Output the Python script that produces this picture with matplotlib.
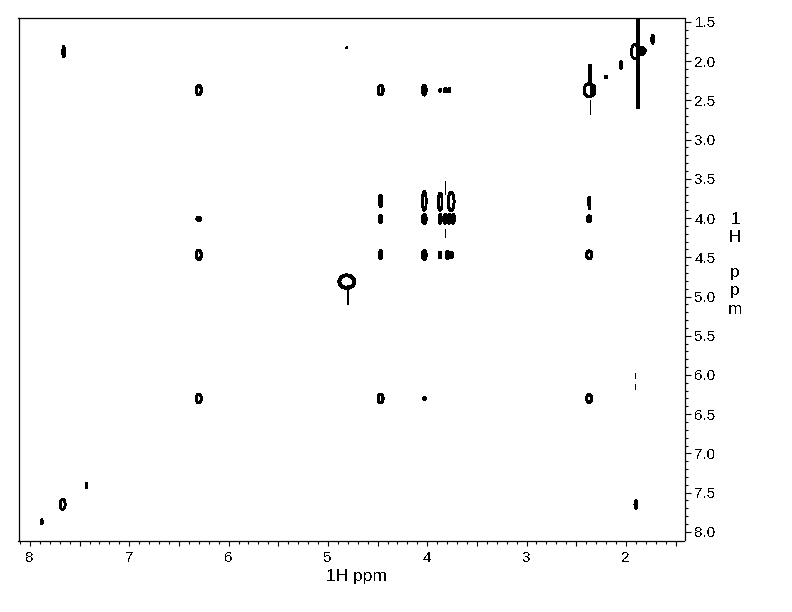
import matplotlib
matplotlib.use("Agg")
import numpy as np
import matplotlib.pyplot as plt
from matplotlib.patches import Ellipse

plt.rcParams['font.family'] = ['Liberation Sans', 'DejaVu Sans']
plt.rcParams['text.antialiased'] = False

# filled cross peaks: F2 ppm, F1 ppm, width, height (ppm)
solid_x = [7.66, 7.88, 7.43, 1.90, 2.05, 2.20, 1.73, 4.81,
           4.47, 4.03, 6.30, 4.47, 4.03, 3.87, 3.82, 3.78, 3.74, 2.37, 2.37,
           4.47, 4.03, 3.87, 3.80, 3.76, 4.03, 3.87, 3.82, 3.78,
           2.33, 1.84]
solid_y = [1.88, 7.87, 7.41, 7.65, 2.05, 2.20, 1.72, 1.83,
           3.78, 2.37, 4.01, 4.01, 4.01, 4.01, 4.01, 4.01, 4.01, 3.79, 4.01,
           4.47, 4.47, 4.47, 4.47, 4.47, 6.30, 2.37, 2.37, 2.37,
           2.37, 1.87]
solid_w = [0.03, 0.02, 0.015, 0.03, 0.03, 0.03, 0.03, 0.01,
           0.04, 0.05, 0.05, 0.04, 0.05, 0.03, 0.04, 0.04, 0.04, 0.03, 0.05,
           0.04, 0.05, 0.03, 0.03, 0.05, 0.03, 0.02, 0.03, 0.03,
           0.05, 0.08]
solid_h = [0.15, 0.07, 0.07, 0.11, 0.10, 0.03, 0.12, 0.02,
           0.16, 0.14, 0.06, 0.11, 0.13, 0.13, 0.13, 0.13, 0.13, 0.13, 0.09,
           0.12, 0.13, 0.09, 0.11, 0.09, 0.04, 0.04, 0.06, 0.06,
           0.14, 0.10]

# peaks drawn as open contours
ring_x = [7.67, 6.30, 6.30, 6.30, 4.47, 4.47, 2.37, 4.03, 3.87, 3.76, 2.37, 2.37, 1.91, 4.81]
ring_y = [7.65, 2.37, 4.47, 6.30, 2.37, 6.30, 6.30, 3.78, 3.79, 3.79, 4.47, 2.37, 1.88, 4.81]
ring_w = [0.05, 0.05, 0.05, 0.05, 0.05, 0.05, 0.05, 0.04, 0.04, 0.06, 0.05, 0.10, 0.07, 0.15]
ring_h = [0.13, 0.12, 0.12, 0.11, 0.12, 0.11, 0.10, 0.24, 0.22, 0.23, 0.10, 0.17, 0.18, 0.16]
ring_lw = [1.3, 1.5, 1.5, 1.5, 1.5, 1.5, 1.5, 1.2, 1.2, 1.4, 1.5, 1.5, 1.2, 2.0]

# vertical t1 noise ridges: F2 ppm, F1 start, F1 end, line width
ridge_x = [1.88, 2.36, 2.36, 4.80, 3.82, 3.82, 4.03, 3.74, 1.91, 1.91, 2.37]
ridge_y0 = [1.45, 2.04, 2.50, 4.85, 3.53, 4.14, 3.65, 3.70, 5.97, 6.11, 3.72]
ridge_y1 = [2.61, 2.32, 2.67, 5.11, 3.69, 4.24, 3.72, 3.78, 6.04, 6.18, 3.88]
ridge_lw = [1.6, 1.6, 0.72, 1.4, 0.72, 0.72, 0.72, 0.72, 0.72, 0.72, 1.0]

x_ticks = [8, 7.5, 7, 6.5, 6, 5.5, 5, 4.5, 4, 3.5, 3, 2.5, 2, 1.5]
x_labels = ["8", "", "7", "", "6", "", "5", "", "4", "", "3", "", "2", ""]
y_ticks = [1.5, 2.0, 2.5, 3.0, 3.5, 4.0, 4.5, 5.0, 5.5, 6.0, 6.5, 7.0, 7.5, 8.0]

fig = plt.figure(figsize=(7.92, 6.12), dpi=100)
ax = fig.add_axes([18.5 / 792, 1 - 540.5 / 612, 666 / 792, 522.5 / 612])

for x, y, w, h in zip(solid_x, solid_y, solid_w, solid_h):
    ax.add_patch(Ellipse((x, y), w, h, fc='black', ec='black', lw=0.5, antialiased=False))
for x, y, w, h, lw in zip(ring_x, ring_y, ring_w, ring_h, ring_lw):
    ax.add_patch(Ellipse((x, y), w, h, fc='none', ec='black', lw=lw, antialiased=False))
for x, y0, y1, lw in zip(ridge_x, ridge_y0, ridge_y1, ridge_lw):
    ax.plot([x, x], [y0, y1], color='black', lw=lw, solid_capstyle='butt', antialiased=False)

ax.set_xlim(8.115, 1.41)
ax.set_ylim(8.11, 1.45)

for s in ax.spines.values():
    s.set_linewidth(0.9)

ax.set_xticks(x_ticks)
ax.set_xticklabels(x_labels)
ax.set_xticks(np.arange(1.5, 8.2, 0.1), minor=True)
ax.set_yticks(y_ticks)
ax.set_yticks(np.arange(1.5, 8.1, 0.1), minor=True)
ax.set_yticklabels([f"{v:.1f}" for v in y_ticks])
ax.yaxis.tick_right()
ax.tick_params(which='major', length=3.6, width=0.8, labelsize=11, pad=4)
ax.tick_params(which='minor', length=1.8, width=0.8)
ax.tick_params(axis='y', which='major', length=4.3, pad=3)
ax.tick_params(axis='y', which='minor', length=2.2)

fig.text(356 / 792, 1 - 576 / 612, "1H ppm", ha='center', va='center', fontsize=12.5)
fig.text(735 / 792, 1 - 264 / 612, "1\nH\n\np\np\nm", ha='center', va='center', fontsize=12.5, linespacing=1.25)

fig.savefig("out.png", dpi=100)
